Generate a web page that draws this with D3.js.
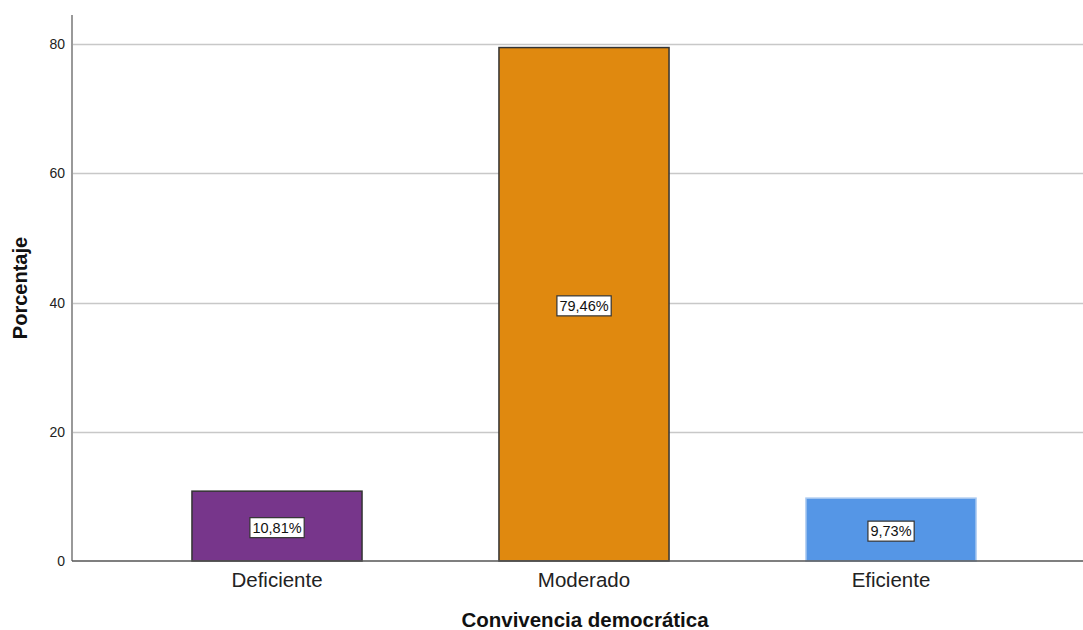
<!DOCTYPE html>
<html><head><meta charset="utf-8">
<script src="https://cdn.jsdelivr.net/npm/d3@7"></script>
<style>body{margin:0;background:#fff;} text{font-family:"Liberation Sans",Arial,sans-serif;}</style>
</head><body>
<svg id="c" width="1083" height="630"></svg>
<script>
const categories = ["Deficiente", "Moderado", "Eficiente"];
const values = [10.81, 79.46, 9.73];
const labels = ["10,81%", "79,46%", "9,73%"];
const colors = ["#77368b", "#e0890f", "#5596e6"];
const strokes = ["#333333", "#333333", "#a9c9f0"];
const yTicks = [0, 20, 40, 60, 80];

(function () {
const svg = d3.select("#c");
const pLeft = 72, pRight = 1083, pTop = 15, pBottom = 561;

const y = d3.scaleLinear().domain([0, 84.5]).range([pBottom, pTop]);
const x = d3.scaleBand().domain(categories).range([123.5, 1044.5]).paddingInner(0.446).paddingOuter(0.223);

// grid
svg.append("g").selectAll("line").data(yTicks.filter(d => d > 0)).join("line")
  .attr("x1", pLeft).attr("x2", pRight)
  .attr("y1", d => Math.round(y(d)) + 0.5).attr("y2", d => Math.round(y(d)) + 0.5)
  .attr("stroke", "#c8c8c8").attr("stroke-width", 1.5);

// y axis
const ya = svg.append("g").attr("transform", `translate(${pLeft},0)`)
  .call(d3.axisLeft(y).tickValues(yTicks).tickSize(0).tickPadding(7));
ya.select(".domain").attr("stroke", "#999").attr("stroke-width", 2).attr("d", `M0,${pTop}V${pBottom}`);
ya.selectAll("text").attr("font-size", 14).attr("fill", "#222").attr("font-family", "Liberation Sans, Arial, sans-serif");

// bars
svg.append("g").selectAll("rect").data(values).join("rect")
  .attr("x", (d, i) => x(categories[i]))
  .attr("width", x.bandwidth())
  .attr("y", d => y(d))
  .attr("height", d => pBottom - y(d))
  .attr("fill", (d, i) => colors[i])
  .attr("stroke", (d, i) => strokes[i])
  .attr("stroke-width", 1.5);

// x axis
const xa = svg.append("g").attr("transform", `translate(0,${pBottom})`)
  .call(d3.axisBottom(x).tickSize(0).tickPadding(11));
xa.select(".domain").attr("stroke", "#555").attr("stroke-width", 1.5).attr("d", `M${pLeft},0H${pRight}`);
xa.selectAll("text").attr("font-size", 20.5).attr("fill", "#222").attr("font-family", "Liberation Sans, Arial, sans-serif");

// value labels
const lg = svg.append("g").selectAll("g").data(values).join("g")
  .attr("transform", (d, i) => `translate(${x(categories[i]) + x.bandwidth() / 2},${y(d / 2) + 1.5})`);
lg.append("text").text((d, i) => labels[i])
  .attr("text-anchor", "middle").attr("dy", "0.35em")
  .attr("font-size", 14.5).attr("fill", "#111")
  .each(function () {
    const b = this.getBBox();
    d3.select(this.parentNode).insert("rect", "text")
      .attr("x", b.x - 2.5).attr("y", b.y - 2).attr("width", b.width + 5).attr("height", b.height + 4)
      .attr("fill", "#fff").attr("stroke", "#333").attr("stroke-width", 1.2);
  });

// titles
svg.append("text").text("Convivencia democrática")
  .attr("x", 585).attr("y", 627).attr("text-anchor", "middle")
  .attr("font-size", 20.5).attr("font-weight", "bold").attr("fill", "#111");
svg.append("text").text("Porcentaje")
  .attr("transform", "translate(27,288) rotate(-90)").attr("text-anchor", "middle")
  .attr("font-size", 20).attr("font-weight", "bold").attr("fill", "#111");
})();
</script>
</body></html>
